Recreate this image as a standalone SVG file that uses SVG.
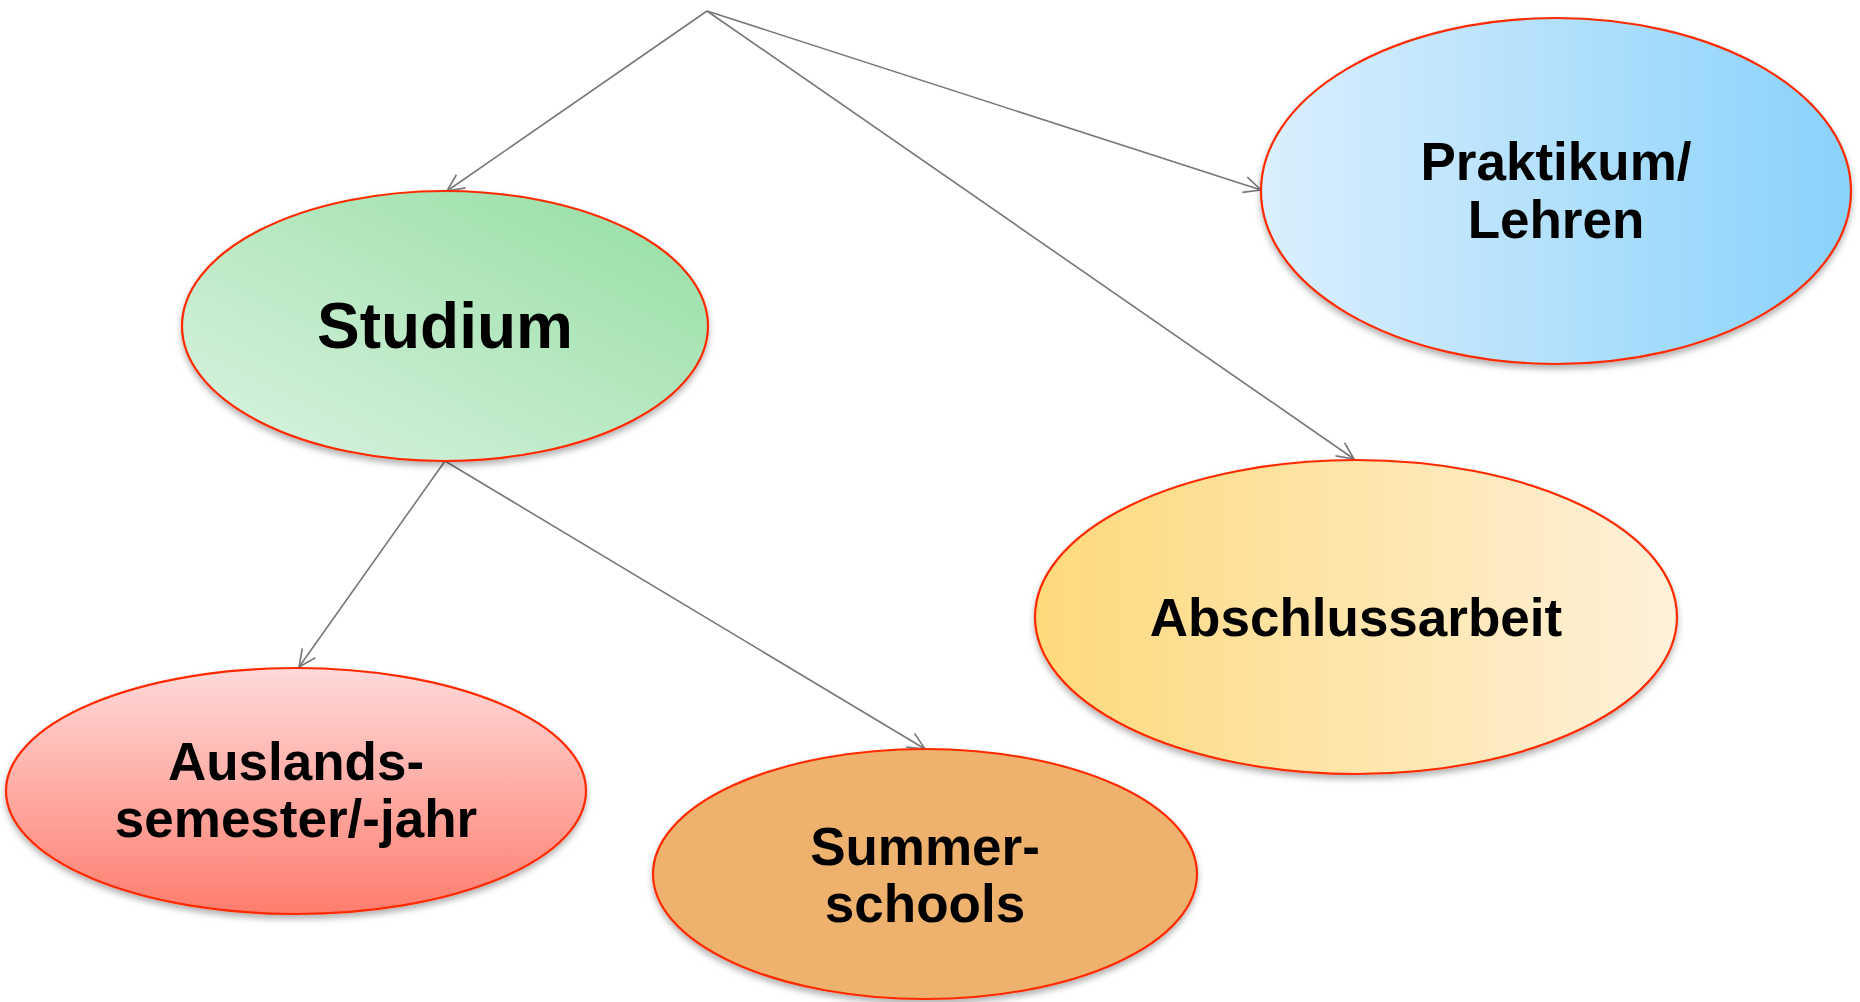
<svg xmlns="http://www.w3.org/2000/svg" width="1860" height="1002" viewBox="0 0 1860 1002">
<style>
.node ellipse{stroke:#ff2a00;stroke-width:2.2;filter:url(#sh)}
.lbl{font-family:"Liberation Sans",Arial,sans-serif;font-weight:bold;fill:#000;text-anchor:middle}
.conn line{stroke:#777;stroke-width:1.6;fill:none;marker-end:url(#arr)}
</style>
<defs>
<marker id="arr" viewBox="0 0 20 20" refX="19" refY="10" markerWidth="20" markerHeight="20" markerUnits="userSpaceOnUse" orient="auto">
<path d="M2,2 L19,10 L2,18" fill="none" stroke="#777" stroke-width="1.6"/>
</marker>
<filter id="sh" x="-10%" y="-10%" width="120%" height="125%">
<feDropShadow dx="0" dy="4" stdDeviation="3" flood-color="#000" flood-opacity="0.3"/>
</filter>
<linearGradient id="gGreen" x1="0" y1="1" x2="1" y2="0">
<stop offset="0" stop-color="#dcf3e2"/>
<stop offset="1" stop-color="#93dea2"/>
</linearGradient>
<linearGradient id="gBlue" x1="0" y1="0" x2="1" y2="0">
<stop offset="0" stop-color="#dbeffd"/>
<stop offset="1" stop-color="#89d2fb"/>
</linearGradient>
<linearGradient id="gYel" x1="0" y1="0" x2="1" y2="0">
<stop offset="0" stop-color="#fed97c"/>
<stop offset="1" stop-color="#fef1da"/>
</linearGradient>
<linearGradient id="gRed" x1="0" y1="0" x2="0" y2="1">
<stop offset="0" stop-color="#ffdada"/>
<stop offset="1" stop-color="#ff7d6e"/>
</linearGradient>
</defs>
<g id="connectors" class="conn">
<line x1="707" y1="11" x2="447" y2="191"/>
<line x1="707" y1="11" x2="1261" y2="190"/>
<line x1="707" y1="11" x2="1354" y2="459"/>
<line x1="445" y1="461" x2="299" y2="667"/>
<line x1="445" y1="461" x2="925" y2="749"/>
</g>
<g id="studium" class="node">
<ellipse cx="445" cy="326" rx="263" ry="135" fill="url(#gGreen)"/>
<text class="lbl" x="445" y="348" font-size="64">Studium</text>
</g>
<g id="praktikum" class="node">
<ellipse cx="1556" cy="191" rx="295" ry="173" fill="url(#gBlue)"/>
<text class="lbl" x="1556" y="180" font-size="53">Praktikum/</text>
<text class="lbl" x="1556" y="238" font-size="53">Lehren</text>
</g>
<g id="abschlussarbeit" class="node">
<ellipse cx="1356" cy="617" rx="321" ry="157" fill="url(#gYel)"/>
<text class="lbl" x="1356" y="636" font-size="53">Abschlussarbeit</text>
</g>
<g id="auslands" class="node">
<ellipse cx="296" cy="791" rx="290" ry="123" fill="url(#gRed)"/>
<text class="lbl" x="296" y="780" font-size="53">Auslands-</text>
<text class="lbl" x="296" y="837" font-size="53">semester/-jahr</text>
</g>
<g id="summer" class="node">
<ellipse cx="925" cy="874" rx="272" ry="125" fill="#eeb26e"/>
<text class="lbl" x="925" y="865" font-size="53">Summer-</text>
<text class="lbl" x="925" y="922" font-size="53">schools</text>
</g>
</svg>
